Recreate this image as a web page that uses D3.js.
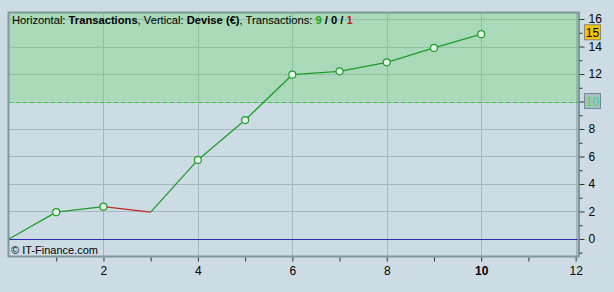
<!DOCTYPE html>
<html>
<head>
<meta charset="utf-8">
<script src="https://cdn.jsdelivr.net/npm/d3@7"></script>
<style>
  body { margin: 0; background: #cddce4; }
  text { font-family: "Liberation Sans", Arial, sans-serif; }
</style>
</head>
<body>
<script>
// trade results, cumulative (€)
let trades = [0, 1, 2, 3, 4, 5, 6, 7, 8, 9, 10];
let equity = [0, 1.95, 2.35, 1.95, 5.75, 8.65, 11.95, 12.2, 12.85, 13.9, 14.9];
let outcome = ["", "win", "win", "loss", "win", "win", "win", "win", "win", "win", "win"];
let xTicks = [2, 4, 6, 8, 10, 12];
let yTicks = [0, 2, 4, 6, 8, 12, 14, 16];
let target = 10;
let lastValue = 15;

let width = 614, height = 292;
let pLeft = 9, pTop = 13, pRight = 578, pBottom = 256;

let x = d3.scaleLinear().domain([0, 12.05]).range([pLeft, pRight]);
let y = d3.scaleLinear().domain([-1.24, 16.44]).range([pBottom, pTop]);

let svg = d3.select("body").append("svg")
    .attr("width", width)
    .attr("height", height);

svg.append("rect")
    .attr("width", width).attr("height", height)
    .attr("fill", "#cddce4");

// zone above target
svg.append("rect")
    .attr("x", pLeft).attr("y", pTop)
    .attr("width", pRight - pLeft).attr("height", y(target) - pTop)
    .attr("fill", "#a9d9b9");

// grid
let grid = svg.append("g").attr("stroke", "#a4b7bf").attr("stroke-width", 1);
d3.range(2, 17, 2).forEach(d => {
  grid.append("line")
      .attr("x1", pLeft).attr("x2", pRight)
      .attr("y1", Math.round(y(d)) + 0.5).attr("y2", Math.round(y(d)) + 0.5)
      .attr("stroke", d > target ? "#8fc0a0" : "#a4b7bf");
});
xTicks.forEach(d => {
  grid.append("line")
      .attr("x1", Math.round(x(d)) + 0.5).attr("x2", Math.round(x(d)) + 0.5)
      .attr("y1", pTop).attr("y2", pBottom);
  // greener over the target zone
  grid.append("line")
      .attr("x1", Math.round(x(d)) + 0.5).attr("x2", Math.round(x(d)) + 0.5)
      .attr("y1", pTop).attr("y2", y(target))
      .attr("stroke", "#8fc0a0");
});

// zero line
svg.append("line")
    .attr("x1", pLeft).attr("x2", pRight)
    .attr("y1", Math.round(y(0)) + 0.5).attr("y2", Math.round(y(0)) + 0.5)
    .attr("stroke", "#2c2cb0").attr("stroke-width", 1.2);

// target dashed line
svg.append("line")
    .attr("x1", pLeft).attr("x2", pRight)
    .attr("y1", Math.round(y(target)) + 0.5).attr("y2", Math.round(y(target)) + 0.5)
    .attr("stroke", "#33cc33").attr("stroke-dasharray", "4,3");

// plot border
svg.append("rect")
    .attr("x", pLeft - 0.5).attr("y", pTop - 0.5)
    .attr("width", pRight - pLeft + 1).attr("height", pBottom - pTop + 1)
    .attr("fill", "none").attr("stroke", "#7f999f").attr("stroke-width", 2);

// equity segments
let seg = svg.append("g");
for (let i = 1; i < trades.length; i++) {
  seg.append("line")
      .attr("x1", x(trades[i - 1])).attr("y1", y(equity[i - 1]))
      .attr("x2", x(trades[i])).attr("y2", y(equity[i]))
      .attr("stroke", outcome[i] == "loss" ? "#c02828" : "#1e9e28")
      .attr("stroke-width", 1.3);
}
svg.append("g").selectAll("circle")
    .data(trades.filter((d, i) => outcome[i] == "win"))
    .enter()
    .append("circle")
    .attr("cx", d => x(d))
    .attr("cy", d => y(equity[d]))
    .attr("r", 3.5)
    .attr("fill", "#e6f2ea")
    .attr("stroke", "#1e9e28")
    .attr("stroke-width", 1.2);

// right axis
let yAxis = d3.axisRight(y)
    .tickValues(d3.range(-1, 17))
    .tickSize(4)
    .tickFormat(d => yTicks.includes(d) ? d : "");
let ya = svg.append("g")
    .attr("transform", `translate(${pRight + 1.5},0)`)
    .call(yAxis);
ya.select(".domain").attr("stroke", "#7f999f").attr("stroke-width", 1)
    .attr("d", `M0,${pTop - 1}V${pBottom + 1}`);
ya.selectAll(".tick line").attr("stroke", "#333")
    .attr("x2", d => d % 2 == 0 ? 5 : 3);
ya.selectAll(".tick text")
    .attr("x", 9)
    .attr("font-size", 12).attr("fill", "#000");

// x axis
let xAxis = d3.axisBottom(x)
    .tickValues(d3.range(1, 13))
    .tickSize(4)
    .tickFormat(d => xTicks.includes(d) ? d : "");
let xa = svg.append("g")
    .attr("transform", `translate(0,${pBottom + 1.5})`)
    .call(xAxis);
xa.select(".domain").remove();
xa.selectAll(".tick line").attr("stroke", "#333");
xa.selectAll(".tick text")
    .attr("y", 9)
    .attr("font-size", 12).attr("fill", "#000")
    .attr("font-weight", d => d == 10 ? "bold" : "normal");

// value badges on the right
function badge(v, fill, stroke, color) {
  svg.append("rect")
      .attr("x", 584.5).attr("y", y(v) - 8)
      .attr("width", 16).attr("height", 15)
      .attr("fill", fill).attr("stroke", stroke);
  svg.append("text")
      .attr("x", 592.5).attr("y", y(v) + 4.5)
      .attr("text-anchor", "middle")
      .attr("font-size", 12).attr("fill", color)
      .text(v);
}
badge(lastValue, "#f5c400", "#8a8a6a", "#000");
badge(target, "#a8bec8", "#6f8c98", "#44dd44");

// header
let head = svg.append("text")
    .attr("x", 12).attr("y", 24)
    .attr("font-size", 11.2).attr("fill", "#000");
head.append("tspan").text("Horizontal: ");
head.append("tspan").attr("font-weight", "bold").text("Transactions");
head.append("tspan").text(", Vertical: ");
head.append("tspan").attr("font-weight", "bold").text("Devise (€)");
head.append("tspan").text(", Transactions: ");
head.append("tspan").attr("font-weight", "bold").attr("fill", "#1e9e28").text("9");
head.append("tspan").attr("font-weight", "bold").text(" / 0 / ");
head.append("tspan").attr("font-weight", "bold").attr("fill", "#c02020").text("1");

svg.append("text")
    .attr("x", 11).attr("y", 254)
    .attr("font-size", 11).attr("fill", "#000")
    .text("© IT-Finance.com");
</script>
</body>
</html>
